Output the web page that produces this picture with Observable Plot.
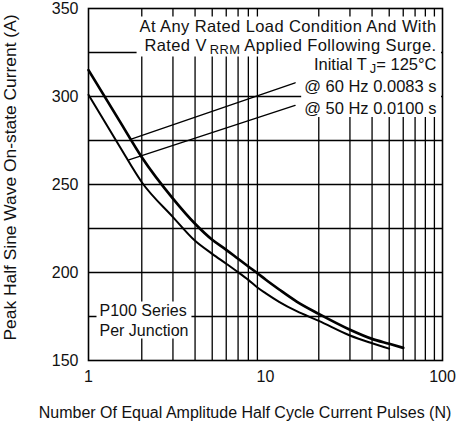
<!DOCTYPE html>
<html><head><meta charset="utf-8">
<script src="https://cdn.jsdelivr.net/npm/d3@7"></script>
<script src="https://cdn.jsdelivr.net/npm/@observablehq/plot@0.6"></script>
<style>body{margin:0;background:#fff;} #chart{width:456px;height:426px;}</style>
</head><body><div id="chart"></div>
<script>
// Surge curves: number of pulses (N) vs peak current (A)
const pulses60 = [1, 1.5, 2, 3, 4, 5, 6, 7, 8, 9, 10, 12, 15, 20, 30, 40, 50, 60];
const current60 = [315, 286, 265.5, 242, 227.7, 218.6, 212.9, 207.8, 203.4, 199.6, 196, 190.2, 183.5, 176.5, 167.5, 162.3, 159.5, 157.2];
const pulses50 = [1, 1.5, 2, 3, 4, 5, 6, 7, 8, 9, 10, 12, 15, 20, 30, 40, 50];
const current50 = [301, 271.6, 251.3, 231.5, 218, 210.6, 205, 200.2, 195.8, 191.5, 188.3, 183.2, 178, 172.5, 164.2, 159.8, 156.7];
// leader lines from the labels to the curves
const leaderN = [1.727, 14.7];
const leader60A = [275.6, 307.8];
const leader50N = [1.69, 14.7];
const leader50A = [264, 294.9];
// grid and ticks
const xGrid = [2, 3, 4, 5, 6, 7, 8, 9, 20, 30, 40, 50, 60, 70, 80, 90];
const yGrid = [175, 200, 225, 250, 275, 300, 325];
const xTicks = [1, 10, 100];
const yTicks = [150, 200, 250, 300, 350];
// texts
const xTitle = "Number Of Equal Amplitude Half Cycle Current Pulses (N)";
const yTitle = "Peak Half Sine Wave On-state Current (A)";
const noteA = ["At Any Rated Load Condition And With", "Rated V_{RRM} Applied Following Surge."];
const noteB = ["Initial T_{J}= 125°C", "@ 60 Hz 0.0083 s", "@ 50 Hz 0.0100 s"];
const noteC = ["P100 Series", "Per Junction"];

const font = "'Liberation Sans', Arial, sans-serif";
const ink = "#111";
const toRows = (xs, ys) => xs.map((n, i) => ({n, a: ys[i]}));
const txt = (s, o) => Plot.text([s], {text: d => d, fill: ink, ...o});
const noteR = {frameAnchor: "top-right", textAnchor: "end", lineAnchor: "bottom", dx: -6};
const noteL = {frameAnchor: "bottom-left", textAnchor: "start", lineAnchor: "bottom", dx: 11, fontSize: 16};

const plot = Plot.plot({
  width: 456, height: 426,
  marginLeft: 88, marginRight: 14, marginTop: 8, marginBottom: 66,
  style: {fontFamily: font, fontSize: "16px", color: ink, background: "#fff"},
  x: {type: "log", domain: [1, 100]},
  y: {domain: [150, 350]},
  marks: [
    Plot.ruleX(xGrid, {stroke: "#000", strokeWidth: 1.3}),
    Plot.ruleY(yGrid, {stroke: "#000", strokeWidth: 1.3}),
    Plot.frame({stroke: "#000", strokeWidth: 1.6}),
    Plot.axisX(xTicks, {tickSize: 0, tickPadding: 10, tickFormat: d => String(d), fontSize: 16, label: null}),
    Plot.axisY(yTicks, {tickSize: 0, tickPadding: 10, fontSize: 16, label: null}),
    Plot.line(toRows(pulses60, current60), {x: "n", y: "a", stroke: "#000", strokeWidth: 2.7, curve: "monotone-x"}),
    Plot.line(toRows(pulses50, current50), {x: "n", y: "a", stroke: "#000", strokeWidth: 2.0, curve: "monotone-x"}),
    Plot.line(toRows(leaderN, leader60A), {x: "n", y: "a", stroke: "#000", strokeWidth: 1.3}),
    Plot.line(toRows(leader50N, leader50A), {x: "n", y: "a", stroke: "#000", strokeWidth: 1.3}),
    txt(yTitle, {frameAnchor: "left", rotate: -90, dx: -78.5, dy: -7, fontSize: 17.4, textAnchor: "middle", lineAnchor: "middle"}),
    txt(xTitle, {frameAnchor: "bottom", dx: -20.5, dy: 52, fontSize: 16, textAnchor: "middle", lineAnchor: "middle"}),
    txt(noteA[0], {...noteR, dy: 23, fontSize: 16.5}),
    txt(noteA[1], {...noteR, dy: 42, fontSize: 16.5}),
    txt(noteB[0], {...noteR, dy: 61.5, fontSize: 16.5}),
    txt(noteB[1], {...noteR, dy: 83, fontSize: 16.5}),
    txt(noteB[2], {...noteR, dy: 105.5, fontSize: 16.5}),
    txt(noteC[0], {...noteL, dy: -45}),
    txt(noteC[1], {...noteL, dy: -25})
  ]
});

document.getElementById("chart").appendChild(plot);
const svg = plot.tagName.toLowerCase() === "svg" ? plot : plot.querySelector("svg");
const NS = "http://www.w3.org/2000/svg";

// tag note texts, widen the top lines a little, and render _{...} as subscripts
svg.querySelectorAll("text").forEach(t => {
  const s = t.textContent;
  if (noteA.includes(s)) { t.setAttribute("data-note", "a"); t.setAttribute("letter-spacing", "0.4"); }
  else if (noteB.includes(s)) t.setAttribute("data-note", "b");
  else if (noteC.includes(s)) t.setAttribute("data-note", "c");
  const m = s.match(/^(.*?)_\{(.*?)\}(.*)$/);
  if (!m) return;
  while (t.firstChild) t.removeChild(t.firstChild);
  const a = document.createElementNS(NS, "tspan"); a.textContent = m[1];
  const b = document.createElementNS(NS, "tspan"); b.textContent = m[2];
  b.setAttribute("dy", "3"); b.setAttribute("dx", "3"); b.setAttribute("font-size", "0.78em");
  const c = document.createElementNS(NS, "tspan"); c.textContent = m[3]; c.setAttribute("dy", "-3");
  t.append(a, b, c);
});

// white backgrounds behind the notes, sized from the rendered text
const sb = svg.getBoundingClientRect();
const frameEl = svg.querySelector('[aria-label="frame"]');
function backdrop(key, toRight) {
  let x0 = Infinity, y0 = Infinity, x1 = -Infinity, y1 = -Infinity;
  svg.querySelectorAll(`text[data-note="${key}"]`).forEach(t => {
    const r = t.getBoundingClientRect();
    x0 = Math.min(x0, r.left - sb.left); y0 = Math.min(y0, r.top - sb.top);
    x1 = Math.max(x1, r.right - sb.left); y1 = Math.max(y1, r.bottom - sb.top);
  });
  if (!isFinite(x0)) return;
  if (toRight) x1 = 456 - 14 - 1; else x1 += 3;
  x0 -= 3;
  const rect = document.createElementNS(NS, "rect");
  rect.setAttribute("x", x0); rect.setAttribute("y", y0);
  rect.setAttribute("width", x1 - x0); rect.setAttribute("height", y1 - y0);
  rect.setAttribute("fill", "#fff");
  if (frameEl && frameEl.parentNode === svg) svg.insertBefore(rect, frameEl);
  else svg.insertBefore(rect, svg.querySelector('g[aria-label="line"]'));
}
backdrop("a", true);
backdrop("b", true);
backdrop("c", false);
</script>
</body></html>
